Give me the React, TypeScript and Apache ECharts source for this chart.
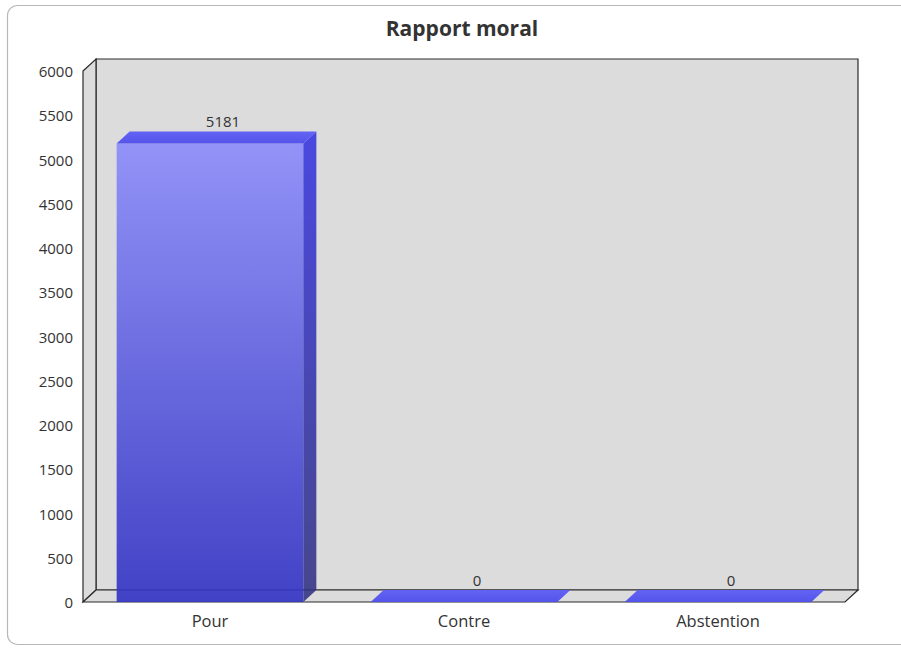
import React, { useEffect, useRef } from "react";
import * as echarts from "echarts";

const categories = ["Pour", "Contre", "Abstention"];
const values = [5181, 0, 0];
const yTicks = [0, 500, 1000, 1500, 2000, 2500, 3000, 3500, 4000, 4500, 5000, 5500, 6000];
const titleText = "Rapport moral";

const DX = 13;
const DY = 12;
const FONT = "'Open Sans', 'Noto Sans', sans-serif";

export default function App() {
  const ref = useRef<HTMLDivElement>(null);
  useEffect(() => {
    if (!ref.current) return;
    const chart = echarts.init(ref.current, undefined, { renderer: "svg" });
    const option: any = {
      animation: false,
      backgroundColor: "#ffffff",
      title: {
        text: titleText,
        left: 457,
        top: 12,
        textAlign: "center",
        textStyle: { fontFamily: FONT, fontSize: 21, fontWeight: "bold", color: "#333333" },
      },
      graphic: [
        {
          type: "rect",
          shape: { x: 7.5, y: 5.5, width: 920, height: 639, r: 10 },
          style: { fill: "none", stroke: "#b8b8b8", lineWidth: 1.2 },
          z: -10,
          silent: true,
        },
      ],
      grid: { left: 83, right: 56, top: 71, bottom: 46, containLabel: false },
      xAxis: {
        type: "category",
        data: categories,
        axisLine: { show: false },
        axisTick: { show: false },
        axisLabel: { fontFamily: FONT, fontSize: 16.5, color: "#333333", margin: 10 },
        splitLine: { show: false },
      },
      yAxis: {
        type: "value",
        min: yTicks[0],
        max: yTicks[yTicks.length - 1],
        interval: yTicks[1] - yTicks[0],
        axisLine: { show: false },
        axisTick: { show: false },
        splitLine: { show: false },
        axisLabel: {
          fontFamily: FONT,
          fontSize: 15,
          color: "#333333",
          margin: 10,
          formatter: (v: number) => String(v),
        },
      },
      series: [
        {
          type: "custom",
          z: 1,
          silent: true,
          data: [0],
          renderItem: (params: any) => {
            const cs = params.coordSys;
            const x = cs.x, y = cs.y, w = cs.width, h = cs.height;
            const wallStyle = { fill: "#dcdcdc", stroke: "#2a2a2a", lineWidth: 1.2 };
            return {
              type: "group",
              children: [
                { type: "rect", shape: { x: x + DX, y: y - DY, width: w, height: h }, style: wallStyle },
                { type: "polygon", shape: { points: [[x, y], [x + DX, y - DY], [x + DX, y + h - DY], [x, y + h]] }, style: wallStyle },
                { type: "polygon", shape: { points: [[x, y + h], [x + DX, y + h - DY], [x + w + DX, y + h - DY], [x + w, y + h]] }, style: wallStyle },
              ],
            };
          },
        },
        {
          type: "custom",
          z: 2,
          data: values.map((v, i) => [i, v]),
          renderItem: (params: any, api: any) => {
            const i = api.value(0);
            const v = api.value(1);
            const top = api.coord([i, v]);
            const bot = api.coord([i, 0]);
            const bw = api.size([1, 0])[0] * 0.735;
            const x0 = top[0] - bw / 2;
            const x1 = top[0] + bw / 2;
            const yT = top[1];
            const yB = bot[1];
            const children: any[] = [];
            if (yB - yT > 0.5) {
              children.push({
                type: "rect",
                shape: { x: x0, y: yT, width: bw, height: yB - yT },
                style: {
                  fill: new echarts.graphic.LinearGradient(0, 0, 0, 1, [
                    { offset: 0, color: "rgba(140,140,250,0.92)" },
                    { offset: 1, color: "rgba(52,52,196,0.92)" },
                  ]),
                },
              });
              children.push({
                type: "polygon",
                shape: { points: [[x1, yT], [x1 + DX, yT - DY], [x1 + DX, yB - DY], [x1, yB]] },
                style: {
                  fill: new echarts.graphic.LinearGradient(0, 0, 0, 1, [
                    { offset: 0, color: "rgba(60,60,225,0.92)" },
                    { offset: 1, color: "rgba(50,50,130,0.88)" },
                  ]),
                },
              });
            }
            children.push({
              type: "polygon",
              shape: { points: [[x0, yT], [x0 + DX, yT - DY], [x1 + DX, yT - DY], [x1, yT]] },
              style: {
                fill: new echarts.graphic.LinearGradient(0, 0, 0, 1, [
                  { offset: 0, color: "rgba(95,95,245,0.97)" },
                  { offset: 1, color: "rgba(80,80,235,0.97)" },
                ]),
              },
            });
            children.push({
              type: "text",
              x: (x0 + x1) / 2 + DX,
              y: yT - DY - 3,
              style: {
                text: String(v),
                fontFamily: FONT,
                fontSize: 15,
                fill: "#333333",
                align: "center",
                verticalAlign: "bottom",
              },
            });
            return { type: "group", children };
          },
        },
      ],
    };
    chart.setOption(option);
    return () => chart.dispose();
  }, []);
  return (
    <div
      ref={ref}
      style={{ position: "fixed", left: 0, top: 0, width: 901, height: 648 }}
    />
  );
}
